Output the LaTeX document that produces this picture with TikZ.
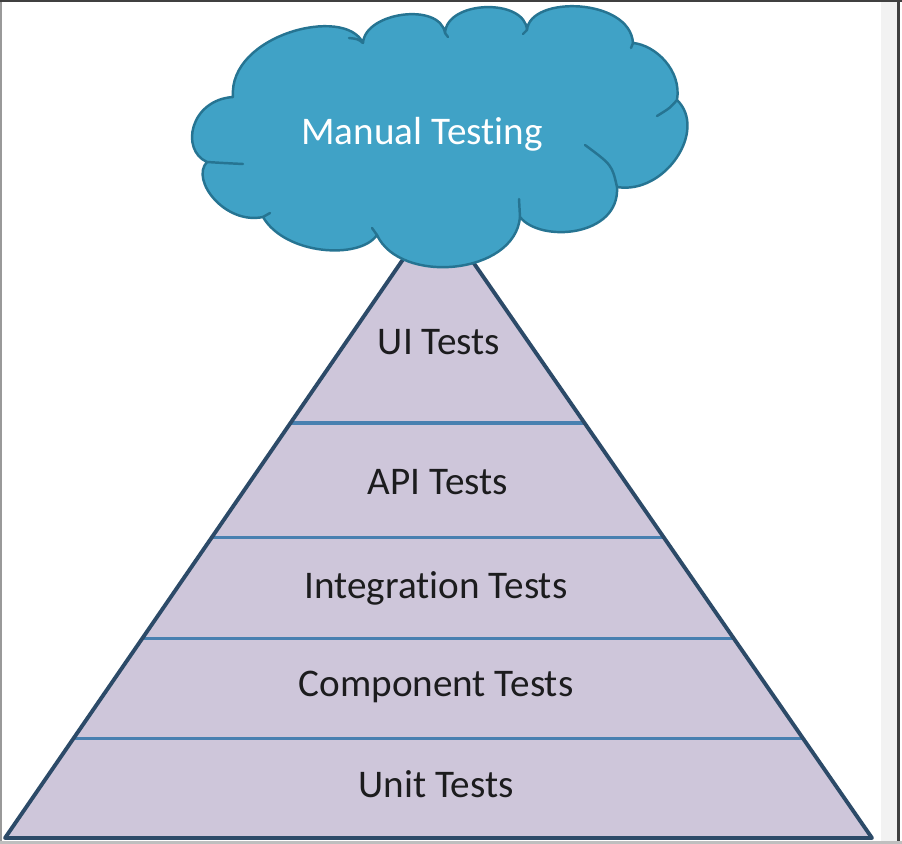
\documentclass[tikz,border=0pt]{standalone}
\usepackage{fontspec}
\setmainfont{Carlito}[Ligatures=NoCommon]
\usetikzlibrary{calc}

\definecolor{cloudfill}{RGB}{64,162,198}
\definecolor{cloudline}{RGB}{38,116,146}
\definecolor{pyrfill}{RGB}{206,198,218}
\definecolor{pyredge}{RGB}{44,74,104}
\definecolor{divline}{RGB}{72,128,176}
\definecolor{labeltext}{RGB}{28,28,30}

\begin{document}
\begin{tikzpicture}[x=0.02cm, y=-0.02cm,
    layer/.style={anchor=base, text=labeltext, font=\fontsize{22.3}{26}\selectfont},
    divider/.style={draw=divline, line width=1.9pt},
    puffline/.style={draw=cloudline, line width=1.4pt, line cap=round}]
        \useasboundingbox (0,0) rectangle (902,844);
        \fill[white] (0,0) rectangle (902,844);
        % screen frame
        \fill[black!5] (881,0) rectangle (897,844);
        \fill[black!75] (897,0) rectangle (900,844);
        \fill[black!40] (0,0) rectangle (1.5,844);
        \fill[black!25] (0,841) rectangle (902,844);
        \fill[black!75] (0,0) rectangle (902,2.5);

        % pyramid
        \coordinate (apex) at (437,210);
        \coordinate (bl) at (5,838);
        \coordinate (br) at (872,838);
        \fill[pyrfill] (apex) -- (bl) -- (br) -- cycle;
        \foreach \t [count=\i] in {0.339,0.521,0.682,0.842} {
                \coordinate (l\i) at ($(apex)!\t!(bl)$);
                \coordinate (r\i) at ($(apex)!\t!(br)$);
                \draw[divider] (l\i) -- (r\i);
        }
        \draw[pyredge, line width=2.2pt, line join=round] (apex) -- (bl) -- (br) -- cycle;

        \node[layer] (ui) at (439,355) {UI Tests};
        \node[layer] (api) at (438,494) {API Tests};
        \node[layer] (integration) at (436,598) {Integration Tests};
        \node[layer] (component) at (436,696) {Component Tests};
        \node[layer] (unit) at (436,797) {Unit Tests};

        % cloud
        \filldraw[fill=cloudfill, draw=cloudline, line width=1.4pt, line join=round]
                (233,97) .. controls (228,35) and (345,5) .. (363,43)
                .. controls (365,12) and (440,2) .. (445,33)
                .. controls (447,0) and (525,-2) .. (527,30)
                .. controls (530,-5) and (630,-2) .. (633,43)
                .. controls (655,45) and (682,70) .. (677,100)
                .. controls (708,130) and (665,195) .. (617,187)
                .. controls (620,237) and (540,243) .. (520,217)
                .. controls (515,275) and (400,285) .. (377,235)
                .. controls (360,260) and (285,255) .. (263,217)
                .. controls (225,225) and (190,180) .. (207,162)
                .. controls (180,150) and (190,100) .. (233,97) -- cycle;
        \draw[puffline] (363,43) .. controls (358,39) .. (349,38);
        \draw[puffline] (445,33) .. controls (446,35) .. (448,37);
        \draw[puffline] (527,30) .. controls (525,32) .. (523,34);
        \draw[puffline] (633,43) .. controls (632,45) .. (631,48);
        \draw[puffline] (677,100) .. controls (670,108) .. (657,116);
        \draw[puffline] (617,187) .. controls (612,165) .. (585,145);
        \draw[puffline] (520,217) .. controls (519,208) .. (519,199);
        \draw[puffline] (377,235) .. controls (375,231) .. (372,228);
        \draw[puffline] (263,217) .. controls (266,215) .. (270,213);
        \draw[puffline] (207,162) .. controls (223,163) .. (243,164);

        \node[anchor=base, text=white, font=\fontsize{22.3}{26}\selectfont] (manual) at (422,145) {Manual Testing};
\end{tikzpicture}
\end{document}
